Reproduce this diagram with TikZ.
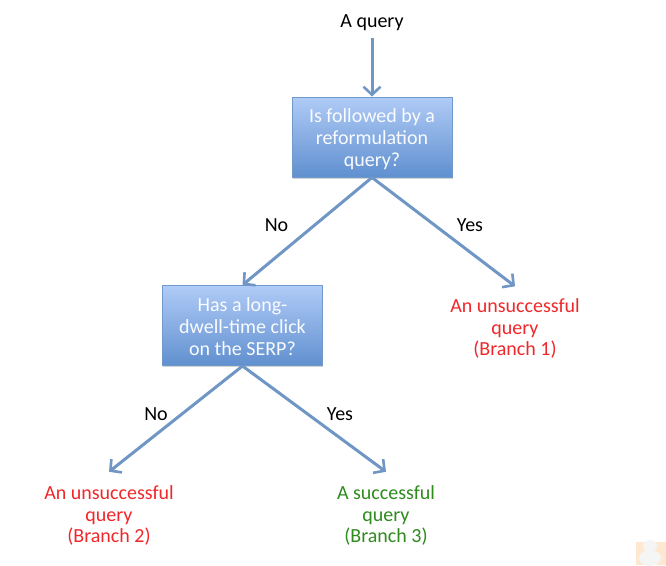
\documentclass[tikz,border=0pt]{standalone}
\usepackage{fontspec}
\setmainfont{Carlito}
\usetikzlibrary{arrows.meta,shadows}
\definecolor{arrowc}{HTML}{6F96C5}
\definecolor{boxtop}{HTML}{B0CBF7}
\definecolor{boxbot}{HTML}{6090CF}
\definecolor{boxline}{HTML}{7099CC}
\definecolor{redt}{HTML}{F0272B}
\definecolor{greent}{HTML}{2E8B1E}
\tikzset{
  x=1pt,y=-1pt,
  qbox/.style={rectangle,draw=boxline,line width=1pt,top color=boxtop,bottom color=boxbot,minimum width=160pt,minimum height=80pt,inner sep=0pt,align=center,text=white!92!boxtop,font=\fontsize{20}{21.7}\selectfont,drop shadow={shadow xshift=0.5pt,shadow yshift=-1.5pt,opacity=0.35}},
  plain/.style={inner sep=0pt,align=center,font=\fontsize{20}{21.7}\selectfont},
  outcome/.style={plain,minimum height=84pt},
  lowoutcome/.style={plain,minimum height=87pt},
  link/.style={draw=arrowc,line width=3pt,-{Straight Barb[length=8pt,width=17pt,line width=2.6pt]}},
  lab/.style={plain,text=black}
}
\begin{document}
\begin{tikzpicture}
\useasboundingbox (0,0) rectangle (666,565);
\fill[white] (0,0) rectangle (666,565);
\node[lab] (start) at (372,23) {A query};
\node[qbox] (q1) at (372,137) {\rule{0pt}{18pt}Is followed by a\\reformulation\\query?};
\node[qbox] (q2) at (242.5,325.5) {\rule{0pt}{16pt}Has a long-\\dwell-time click\\on the SERP?};
\node[outcome,text=redt] (b1) at (515,328.5) {An unsuccessful\\query\\(Branch 1)};
\node[lowoutcome,text=redt] (b2) at (109,515.5) {An unsuccessful\\query\\(Branch 2)};
\node[lowoutcome,text=greent] (b3) at (386,515.5) {A successful\\query\\(Branch 3)};
\coordinate (s) at (372,38);
\draw[link] (s) -- (q1.north);
\draw[link] (q1.south) -- (q2.north);
\draw[link] (q1.south) -- (b1.north);
\draw[link] (q2.south) -- (b2.north);
\draw[link] (q2.south) -- (b3.north);
\node[lab] (no1) at (276.5,225) {No};
\node[lab] (yes1) at (470,225) {Yes};
\node[lab] (no2) at (156,414) {No};
\node[lab] (yes2) at (340,414) {Yes};
% faint corner mark
\fill[orange!18] (636,542) rectangle (666,565);
\fill[white!92!gray] (650,546) ellipse (7 and 6);
\fill[white!92!gray] (650,558) ellipse (11 and 8);
\end{tikzpicture}
\end{document}
